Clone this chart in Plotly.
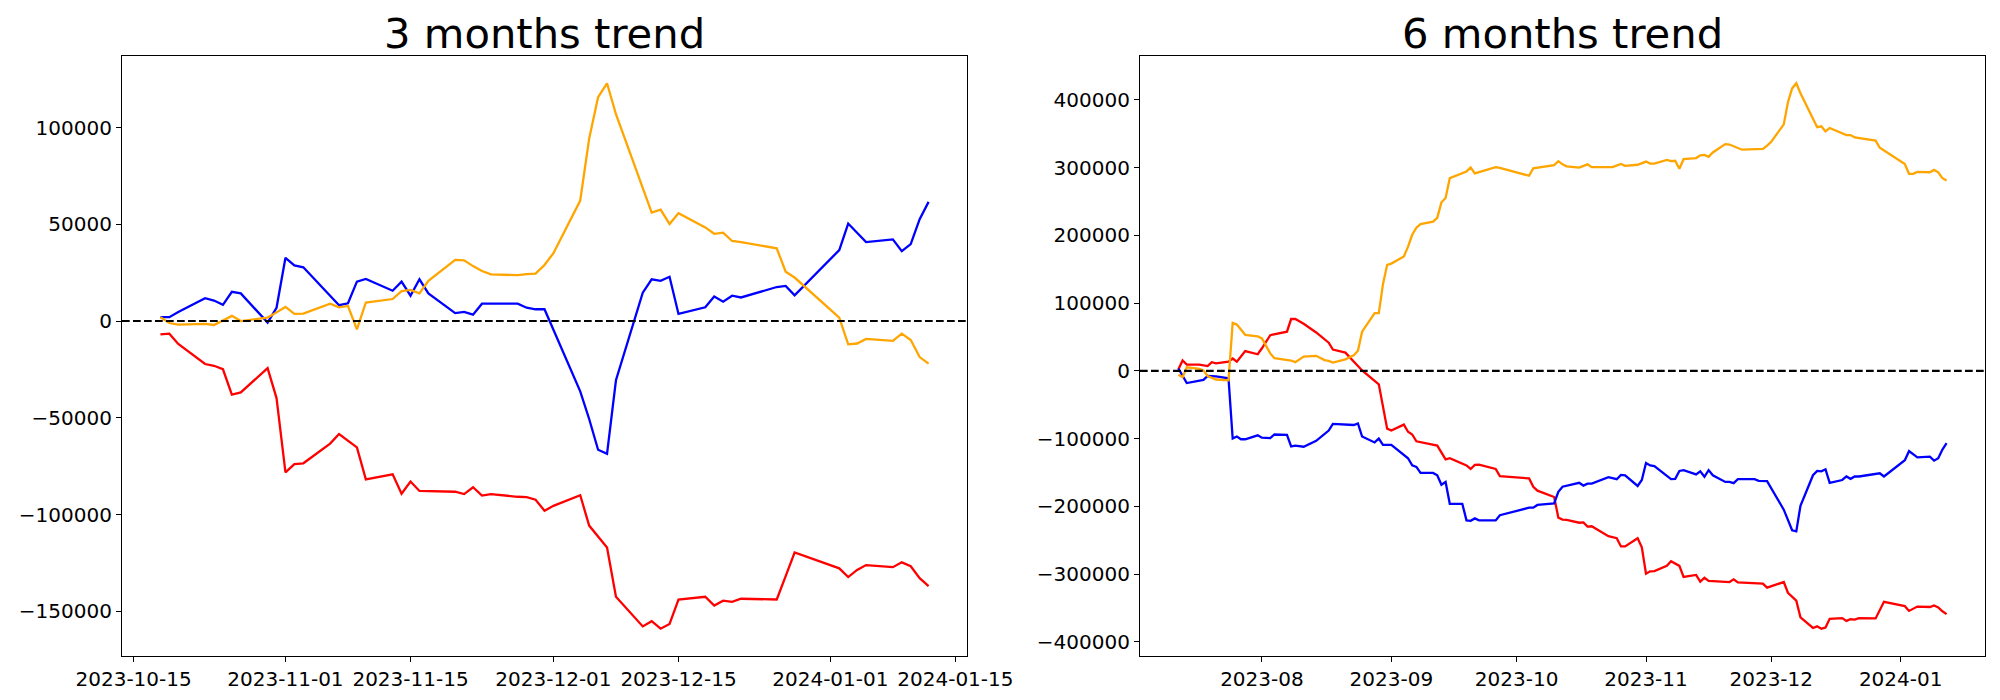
import plotly.graph_objects as go
import pandas as pd

# ---------------- data: 3 months ----------------
DATES_3M = ["2023-10-18", "2023-10-19", "2023-10-20", "2023-10-23", "2023-10-24", "2023-10-25",
            "2023-10-26", "2023-10-27", "2023-10-30", "2023-10-31", "2023-11-01", "2023-11-02",
            "2023-11-03", "2023-11-06", "2023-11-07", "2023-11-08", "2023-11-09", "2023-11-10",
            "2023-11-13", "2023-11-14", "2023-11-15", "2023-11-16", "2023-11-17", "2023-11-20",
            "2023-11-21", "2023-11-22", "2023-11-23", "2023-11-24", "2023-11-27", "2023-11-28",
            "2023-11-29", "2023-11-30", "2023-12-01", "2023-12-04", "2023-12-05", "2023-12-06",
            "2023-12-07", "2023-12-08", "2023-12-11", "2023-12-12", "2023-12-13", "2023-12-14",
            "2023-12-15", "2023-12-18", "2023-12-19", "2023-12-20", "2023-12-21", "2023-12-22",
            "2023-12-26", "2023-12-27", "2023-12-28", "2024-01-02", "2024-01-03", "2024-01-04",
            "2024-01-05", "2024-01-08", "2024-01-09", "2024-01-10", "2024-01-11", "2024-01-12"]

RED_3M = [-6900, -6500, -11800, -22200, -23100, -24900, -38000, -36900, -24300, -39800,
          -78200, -73900, -73500, -63300, -58400, -61900, -65300, -81800, -79200, -89200,
          -82900, -87800, -87900, -88200, -89400, -85900, -90200, -89400, -90800, -91000,
          -92300, -98000, -95500, -90000, -105700, -111400, -117000, -142500, -157800, -155100,
          -159000, -156500, -143900, -142500, -147000, -144500, -145100, -143500, -143900, -131800,
          -119600, -127800, -132300, -128600, -126100, -127200, -124700, -126700, -132900, -137000]

BLUE_3M = [2000, 2000, 4700, 11800, 10600, 8400, 15100, 14300, -800, 6900,
           32700, 28800, 27800, 13100, 8200, 9200, 20400, 21800, 15700, 20400,
           13100, 21600, 14300, 4100, 4700, 3300, 9000, 9000, 9000, 6900,
           6100, 6100, -4700, -36300, -50600, -66500, -68600, -30600, 14700, 21600,
           20800, 22900, 3700, 7100, 12700, 10000, 13100, 12200, 17600, 18200,
           13300, 36700, 50400, 45700, 40800, 42200, 36100, 39800, 52700, 61600]

ORANGE_3M = [2000, -1000, -1800, -1400, -2000, 400, 2700, 0, 1800, 4500,
             7300, 3700, 3900, 9000, 7100, 7800, -4300, 9600, 11400, 15500,
             16100, 14300, 20800, 31600, 31400, 28400, 25900, 24100, 23700, 24300,
             24500, 29000, 35100, 62300, 94300, 115700, 122900, 106900, 69000, 56100,
             57600, 50200, 55700, 48400, 45100, 45700, 41400, 40800, 37600, 25500,
             22500, 1800, -12000, -11600, -9200, -10200, -6500, -9800, -18600, -22000]

# ---------------- data: 6 months (date, value) ----------------
RED_6M = [
    ("2023-07-12", 2300), ("2023-07-13", 15200), ("2023-07-14", 9300), ("2023-07-17", 9300),
    ("2023-07-19", 7000), ("2023-07-20", 12800), ("2023-07-21", 11100), ("2023-07-24", 13400),
    ("2023-07-25", 18100), ("2023-07-26", 13400), ("2023-07-28", 29200), ("2023-07-31", 24500),
    ("2023-08-01", 33300), ("2023-08-03", 52600), ("2023-08-07", 57800), ("2023-08-08", 76500),
    ("2023-08-09", 76500), ("2023-08-11", 69500), ("2023-08-14", 56700), ("2023-08-17", 41500),
    ("2023-08-18", 31500), ("2023-08-21", 26900), ("2023-08-25", 600), ("2023-08-29", -19900),
    ("2023-08-31", -85300), ("2023-09-01", -88200), ("2023-09-04", -79400), ("2023-09-05", -90000),
    ("2023-09-06", -94000), ("2023-09-07", -104000), ("2023-09-12", -110400), ("2023-09-14", -130800),
    ("2023-09-15", -129100), ("2023-09-18", -137800), ("2023-09-19", -139600), ("2023-09-20", -144900),
    ("2023-09-21", -139000), ("2023-09-22", -138400), ("2023-09-26", -144900), ("2023-09-27", -155400),
    ("2023-10-04", -158900), ("2023-10-05", -171100), ("2023-10-06", -177000), ("2023-10-10", -186300),
    ("2023-10-11", -216700), ("2023-10-12", -219600), ("2023-10-13", -220200), ("2023-10-16", -224300),
    ("2023-10-17", -223700), ("2023-10-18", -230100), ("2023-10-19", -229500), ("2023-10-23", -244200),
    ("2023-10-25", -247100), ("2023-10-26", -259300), ("2023-10-27", -259300), ("2023-10-30", -247100),
    ("2023-10-31", -260500), ("2023-11-01", -299600), ("2023-11-02", -296100), ("2023-11-03", -295600),
    ("2023-11-06", -288000), ("2023-11-07", -281000), ("2023-11-08", -284400), ("2023-11-09", -288000),
    ("2023-11-10", -304300), ("2023-11-13", -301400), ("2023-11-14", -311300), ("2023-11-15", -305500),
    ("2023-11-16", -310200), ("2023-11-21", -311900), ("2023-11-22", -307800), ("2023-11-23", -312500),
    ("2023-11-29", -314200), ("2023-11-30", -320100), ("2023-12-04", -311900), ("2023-12-05", -327700),
    ("2023-12-07", -339400), ("2023-12-08", -363900), ("2023-12-11", -379700), ("2023-12-12", -377300),
    ("2023-12-13", -380800), ("2023-12-14", -379100), ("2023-12-15", -366200), ("2023-12-18", -365100),
    ("2023-12-19", -369200), ("2023-12-20", -366800), ("2023-12-21", -367400), ("2023-12-22", -365100),
    ("2023-12-26", -365600), ("2023-12-28", -341100), ("2024-01-02", -347500), ("2024-01-03", -354500),
    ("2024-01-05", -348100), ("2024-01-08", -348700), ("2024-01-09", -346400), ("2024-01-10", -349300),
    ("2024-01-11", -355100), ("2024-01-12", -359200),
]

BLUE_6M = [
    ("2023-07-12", 3500), ("2023-07-13", -6400), ("2023-07-14", -18100), ("2023-07-18", -13400),
    ("2023-07-19", -7600), ("2023-07-21", -8200), ("2023-07-24", -11100), ("2023-07-25", -99900),
    ("2023-07-26", -97000), ("2023-07-27", -101000), ("2023-07-28", -101000), ("2023-07-31", -95200),
    ("2023-08-01", -98700), ("2023-08-03", -99300), ("2023-08-04", -94000), ("2023-08-07", -94600),
    ("2023-08-08", -111600), ("2023-08-09", -110400), ("2023-08-11", -112100), ("2023-08-14", -103400),
    ("2023-08-16", -92900), ("2023-08-17", -88200), ("2023-08-18", -78300), ("2023-08-21", -79400),
    ("2023-08-23", -80000), ("2023-08-24", -77700), ("2023-08-25", -97000), ("2023-08-28", -105700),
    ("2023-08-29", -99900), ("2023-08-30", -109200), ("2023-09-01", -109200), ("2023-09-05", -129100),
    ("2023-09-06", -139600), ("2023-09-07", -141900), ("2023-09-08", -150700), ("2023-09-11", -150700),
    ("2023-09-12", -154200), ("2023-09-13", -168200), ("2023-09-14", -164100), ("2023-09-15", -196300),
    ("2023-09-18", -196300), ("2023-09-19", -220800), ("2023-09-20", -221400), ("2023-09-21", -217900),
    ("2023-09-22", -220800), ("2023-09-26", -220800), ("2023-09-27", -213200), ("2023-10-04", -202100),
    ("2023-10-05", -202100), ("2023-10-06", -198000), ("2023-10-10", -195700), ("2023-10-11", -178700),
    ("2023-10-12", -171100), ("2023-10-16", -165300), ("2023-10-17", -169400), ("2023-10-18", -166500),
    ("2023-10-19", -166500), ("2023-10-23", -157100), ("2023-10-25", -160000), ("2023-10-26", -153600),
    ("2023-10-27", -154200), ("2023-10-30", -170000), ("2023-10-31", -161200), ("2023-11-01", -136100),
    ("2023-11-02", -139600), ("2023-11-03", -140800), ("2023-11-07", -160000), ("2023-11-08", -159500),
    ("2023-11-09", -147800), ("2023-11-10", -146600), ("2023-11-13", -153000), ("2023-11-14", -148400),
    ("2023-11-15", -156500), ("2023-11-16", -146600), ("2023-11-17", -154200), ("2023-11-20", -164100),
    ("2023-11-21", -164100), ("2023-11-22", -165900), ("2023-11-23", -160000), ("2023-11-27", -160000),
    ("2023-11-28", -162400), ("2023-11-30", -163000), ("2023-12-04", -205000), ("2023-12-06", -235400),
    ("2023-12-07", -237100), ("2023-12-08", -199200), ("2023-12-11", -154200), ("2023-12-12", -147800),
    ("2023-12-13", -148400), ("2023-12-14", -145400), ("2023-12-15", -165300), ("2023-12-18", -161200),
    ("2023-12-19", -156000), ("2023-12-20", -159500), ("2023-12-21", -156000), ("2023-12-22", -156000),
    ("2023-12-27", -151300), ("2023-12-28", -156000), ("2024-01-02", -132000), ("2024-01-03", -118600),
    ("2024-01-05", -127900), ("2024-01-08", -126800), ("2024-01-09", -132600), ("2024-01-10", -129100),
    ("2024-01-11", -116200), ("2024-01-12", -106900),
]

ORANGE_6M = [
    ("2023-07-12", -5800), ("2023-07-13", -9300), ("2023-07-14", 5300), ("2023-07-17", 2900),
    ("2023-07-18", 600), ("2023-07-19", -7600), ("2023-07-21", -12800), ("2023-07-24", -14000),
    ("2023-07-25", 70700), ("2023-07-26", 68300), ("2023-07-28", 53200), ("2023-07-31", 50800),
    ("2023-08-01", 47900), ("2023-08-02", 35600), ("2023-08-03", 25700), ("2023-08-04", 18700),
    ("2023-08-07", 15800), ("2023-08-08", 15200), ("2023-08-09", 12900), ("2023-08-10", 16400),
    ("2023-08-11", 21000), ("2023-08-14", 22200), ("2023-08-16", 15800), ("2023-08-17", 14600),
    ("2023-08-18", 12300), ("2023-08-21", 16900), ("2023-08-23", 22800), ("2023-08-24", 29800),
    ("2023-08-25", 57800), ("2023-08-28", 85300), ("2023-08-29", 85300), ("2023-08-30", 127900),
    ("2023-08-31", 156500), ("2023-09-01", 158300), ("2023-09-04", 168800), ("2023-09-05", 183400),
    ("2023-09-06", 200900), ("2023-09-07", 211400), ("2023-09-08", 216700), ("2023-09-11", 220200),
    ("2023-09-12", 226000), ("2023-09-13", 248800), ("2023-09-14", 255300), ("2023-09-15", 284500),
    ("2023-09-18", 292600), ("2023-09-19", 294400), ("2023-09-20", 300200), ("2023-09-21", 291500),
    ("2023-09-26", 300800), ("2023-09-27", 299600), ("2023-10-04", 288000), ("2023-10-05", 299100),
    ("2023-10-10", 303700), ("2023-10-11", 309600), ("2023-10-12", 304900), ("2023-10-13", 302000),
    ("2023-10-16", 300200), ("2023-10-18", 304900), ("2023-10-19", 300800), ("2023-10-24", 300800),
    ("2023-10-26", 305500), ("2023-10-27", 302600), ("2023-10-30", 304300), ("2023-11-01", 309000),
    ("2023-11-02", 306100), ("2023-11-03", 306100), ("2023-11-06", 311300), ("2023-11-07", 309600),
    ("2023-11-08", 310200), ("2023-11-09", 298500), ("2023-11-10", 312500), ("2023-11-13", 314200),
    ("2023-11-14", 318300), ("2023-11-15", 318900), ("2023-11-16", 316000), ("2023-11-17", 322400),
    ("2023-11-20", 334700), ("2023-11-21", 334100), ("2023-11-24", 326500), ("2023-11-29", 327700),
    ("2023-11-30", 332400), ("2023-12-01", 338200), ("2023-12-04", 363900), ("2023-12-05", 396600),
    ("2023-12-06", 417000), ("2023-12-07", 424600), ("2023-12-08", 410000), ("2023-12-12", 359800),
    ("2023-12-13", 361000), ("2023-12-14", 353400), ("2023-12-15", 358600), ("2023-12-18", 349900),
    ("2023-12-19", 348100), ("2023-12-20", 348100), ("2023-12-21", 344600), ("2023-12-26", 339900),
    ("2023-12-27", 329400), ("2024-01-02", 305500), ("2024-01-03", 290900), ("2024-01-04", 290900),
    ("2024-01-05", 293800), ("2024-01-08", 293200), ("2024-01-09", 296700), ("2024-01-10", 293200),
    ("2024-01-11", 284500), ("2024-01-12", 281000),
]

TITLES = ["3 months trend", "6 months trend"]
X_TICKS_3M = ["2023-10-15", "2023-11-01", "2023-11-15", "2023-12-01", "2023-12-15", "2024-01-01", "2024-01-15"]
X_TICKS_6M = ["2023-08-01", "2023-09-01", "2023-10-01", "2023-11-01", "2023-12-01", "2024-01-01"]
X_TICK_TEXT_6M = ["2023-08", "2023-09", "2023-10", "2023-11", "2023-12", "2024-01"]
Y_TICKS_3M = [-150000, -100000, -50000, 0, 50000, 100000]
Y_TICKS_6M = [-400000, -300000, -200000, -100000, 0, 100000, 200000, 300000, 400000]

COLORS = {"red": "red", "blue": "blue", "orange": "orange"}

# ---------------- figure ----------------
# page body has an 8px margin, so the figure is laid out 8px smaller/shifted
OFF = 8
W, H = 2000 - 2 * OFF, 700 - 2 * OFF
FONT = "DejaVu Sans"
LW = 2.3

fig = go.Figure()

for name, vals in [("red", RED_3M), ("blue", BLUE_3M), ("orange", ORANGE_3M)]:
    fig.add_trace(go.Scatter(x=DATES_3M, y=vals, mode="lines",
                             line=dict(color=COLORS[name], width=LW),
                             xaxis="x", yaxis="y", showlegend=False))

for name, pairs in [("red", RED_6M), ("blue", BLUE_6M), ("orange", ORANGE_6M)]:
    fig.add_trace(go.Scatter(x=[p[0] for p in pairs], y=[p[1] for p in pairs], mode="lines",
                             line=dict(color=COLORS[name], width=LW),
                             xaxis="x2", yaxis="y2", showlegend=False))


def pad_range(vmin, vmax, frac=0.05):
    span = vmax - vmin
    return [vmin - frac * span, vmax + frac * span]


def date_range(dates):
    d = pd.to_datetime(pd.Series(dates))
    lo, hi = d.min(), d.max()
    span = hi - lo
    return [(lo - span * 0.05).strftime("%Y-%m-%d %H:%M:%S"),
            (hi + span * 0.05).strftime("%Y-%m-%d %H:%M:%S")]


all3 = RED_3M + BLUE_3M + ORANGE_3M
all6 = [p[1] for p in RED_6M + BLUE_6M + ORANGE_6M]
dates6 = [p[0] for p in RED_6M + BLUE_6M + ORANGE_6M]


def fmt(v):
    return str(v).replace("-", "\u2212")


axis_common = dict(showgrid=False, zeroline=False, showline=True, mirror=True,
                   linecolor="black", linewidth=1.1, ticks="outside", ticklen=5,
                   tickwidth=1.1, tickcolor="black",
                   tickfont=dict(family=FONT, size=20, color="black"))

# target pixel positions in the 2000x700 window
TOP, BOTTOM = 56, 656
L0, L1 = (122 - OFF) / W, (967 - OFF) / W
R0, R1 = (1140 - OFF) / W, (1985 - OFF) / W

fig.update_layout(
    width=W, height=H,
    margin=dict(l=0, r=0, t=TOP - OFF, b=H - (BOTTOM - OFF), autoexpand=False),
    paper_bgcolor="white", plot_bgcolor="white",
    font=dict(family=FONT, color="black"),
    xaxis=dict(domain=[L0, L1], range=date_range(DATES_3M), type="date",
               tickvals=X_TICKS_3M, ticktext=X_TICKS_3M, anchor="y", **axis_common),
    yaxis=dict(domain=[0, 1], range=pad_range(min(all3), max(all3)),
               tickvals=Y_TICKS_3M, ticktext=[fmt(v) for v in Y_TICKS_3M], anchor="x", **axis_common),
    xaxis2=dict(domain=[R0, R1], range=date_range(dates6), type="date",
                tickvals=X_TICKS_6M, ticktext=X_TICK_TEXT_6M, anchor="y2", **axis_common),
    yaxis2=dict(domain=[0, 1], range=pad_range(min(all6), max(all6)),
                tickvals=Y_TICKS_6M, ticktext=[fmt(v) for v in Y_TICKS_6M], anchor="x2", **axis_common),
    showlegend=False,
)

# dashed zero lines
for xr, yr in [("x domain", "y"), ("x2 domain", "y2")]:
    fig.add_shape(type="line", xref=xr, yref=yr, x0=0, x1=1, y0=0, y1=0,
                  line=dict(color="black", width=2.1, dash="7.7px,3.3px"), layer="above")

# titles
for title, (a, b) in zip(TITLES, [(L0, L1), (R0, R1)]):
    fig.add_annotation(text=title, xref="paper", yref="paper", x=(a + b) / 2, y=1,
                       xanchor="center", yanchor="bottom", showarrow=False, yshift=-3,
                       borderpad=0,
                       font=dict(family=FONT, size=41.7, color="black"))

fig.write_html("out.html")
